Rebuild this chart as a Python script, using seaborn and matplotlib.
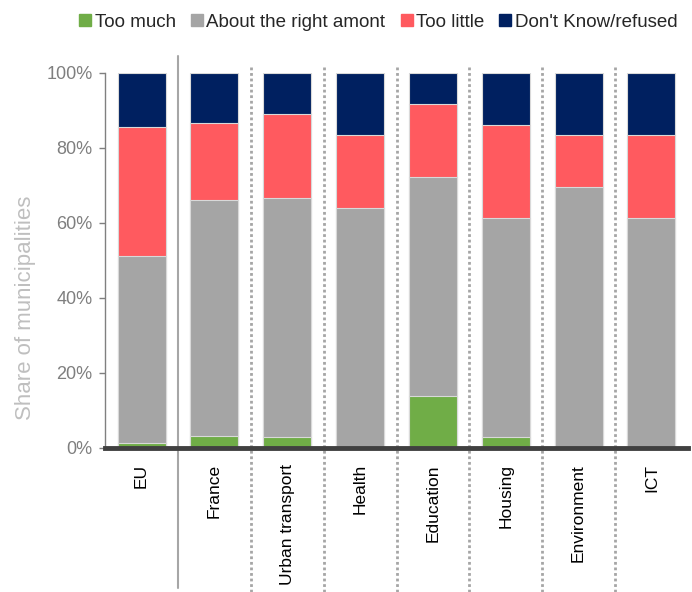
import matplotlib
matplotlib.use("Agg")
import matplotlib.pyplot as plt
import seaborn as sns
import pandas as pd
from matplotlib.lines import Line2D
from matplotlib.ticker import PercentFormatter

# categories and shares (% of municipalities)
categories = ["EU", "France", "Urban transport", "Health", "Education",
              "Housing", "Environment", "ICT"]
too_much = [1.3, 3.0, 2.8, 0.0, 13.8, 2.8, 0.0, 0.0]
about_right = [49.8, 63.0, 63.9, 63.8, 58.4, 58.4, 69.5, 61.2]
too_little = [34.5, 20.5, 22.2, 19.5, 19.4, 24.8, 13.8, 22.1]
dont_know = [14.4, 13.5, 11.1, 16.7, 8.4, 14.0, 16.7, 16.7]

series_names = ["Too much", "About the right amont", "Too little", "Don't Know/refused"]
colors = ["#70ad47", "#a5a5a5", "#ff5a5f", "#002060"]

sns.set_style("white")
plt.rcParams["font.family"] = ["Liberation Sans", "DejaVu Sans"]

# cumulative tops, drawn from the top segment down
df = pd.DataFrame({"cat": categories, "s0": too_much, "s1": about_right,
                   "s2": too_little, "s3": dont_know})
df["c0"] = df["s0"]
df["c1"] = df["c0"] + df["s1"]
df["c2"] = df["c1"] + df["s2"]
df["c3"] = df["c2"] + df["s3"]

fig = plt.figure(figsize=(6.92, 5.92), dpi=100)
ax = fig.add_axes([0.152, 0.244, 0.842, 0.633])

for i in [3, 2, 1, 0]:
    sns.barplot(data=df, x="cat", y=f"c{i}", color=colors[i], width=0.66,
                edgecolor="#d9d9d9", linewidth=0.8, saturation=1, ax=ax)

ax.set_xlim(-0.5, len(categories) - 0.5)
ax.set_ylim(0, 100)
ax.yaxis.set_major_formatter(PercentFormatter(100, decimals=0))
ax.set_yticks([0, 20, 40, 60, 80, 100])
ax.tick_params(axis="y", colors="#7f7f7f", labelsize=13, length=4, width=1,
               direction="out", left=True, pad=5)
ax.tick_params(axis="x", labelsize=12.5, labelcolor="black", length=0, pad=12)
plt.setp(ax.get_xticklabels(), rotation=90, va="top")
ax.set_xlabel("")
ax.set_ylabel("Share of municipalities", color="#bfbfbf", fontsize=16)
ax.yaxis.set_label_coords(-0.118, 0.373)

for side in ["top", "right"]:
    ax.spines[side].set_visible(False)
ax.spines["left"].set_color("#808080")
ax.spines["left"].set_linewidth(1)
ax.spines["bottom"].set_color("#404040")
ax.spines["bottom"].set_linewidth(3.5)
ax.spines["bottom"].set_zorder(5)

# separators between groups
ax.axvline(0.5, ymin=-0.375, ymax=1.045, color="#a6a6a6", linewidth=1.5,
           clip_on=False, zorder=0)
for k in range(1, len(categories) - 1):
    ax.axvline(k + 0.5, ymin=-0.385, ymax=1.02, color="#a6a6a6", linewidth=2,
               linestyle=(0, (1, 1)), clip_on=False, zorder=0)

handles = [Line2D([], [], marker="s", linestyle="", markersize=8, color=c)
           for c in colors]
fig.legend(handles, series_names, loc="upper center", bbox_to_anchor=(0.545, 1.005),
           ncol=4, frameon=False, fontsize=13.5, handletextpad=0.05,
           columnspacing=0.68, handlelength=0.9)

fig.savefig("out.png", dpi=100)
